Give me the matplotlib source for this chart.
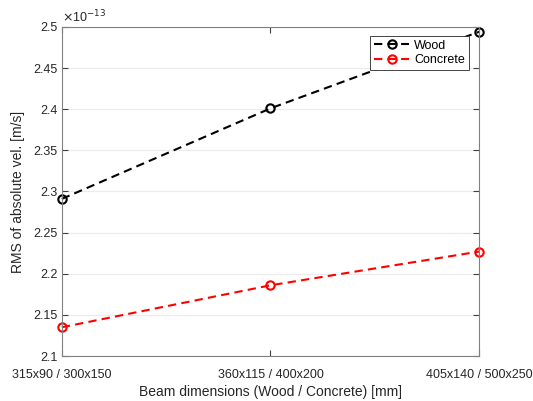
import numpy as np
import matplotlib.pyplot as plt

plt.rcParams['font.family'] = ['Liberation Sans', 'DejaVu Sans']

categories = ['315x90 / 300x150', '360x115 / 400x200', '405x140 / 500x250']
wood = [2.291, 2.401, 2.494]       # x 1e-13 m/s
concrete = [2.135, 2.186, 2.227]   # x 1e-13 m/s

fig = plt.figure(figsize=(5.33, 4.01), dpi=100)
ax = fig.add_axes([0.116, 0.112, 0.783, 0.821])

x = np.arange(len(categories))
ax.plot(x, wood, color='black', linestyle=(0, (4, 2.5)), linewidth=1.5,
        marker='o', markersize=6, markerfacecolor='none', markeredgewidth=1.5,
        label='Wood', clip_on=False)
ax.plot(x, concrete, color='red', linestyle=(0, (4, 2.5)), linewidth=1.5,
        marker='o', markersize=6, markerfacecolor='none', markeredgewidth=1.5,
        label='Concrete', clip_on=False)

ax.set_xlim(0, 2)
ax.set_ylim(2.1, 2.5)
ax.set_xticks(x)
ax.set_xticklabels(categories)
ax.set_yticks(np.arange(2.1, 2.501, 0.05))
ax.set_yticklabels(['2.1', '2.15', '2.2', '2.25', '2.3', '2.35', '2.4', '2.45', '2.5'])
ax.yaxis.grid(True, color='#ebebeb', linewidth=0.8)
ax.set_axisbelow(True)

for s in ax.spines.values():
    s.set_color('#808080')
    s.set_linewidth(0.8)
ax.tick_params(direction='in', length=4, color='#404040', labelsize=9,
               labelcolor='#262626', top=True, right=True, pad=3)
ax.tick_params(axis='x', pad=9)

ax.set_xlabel('Beam dimensions (Wood / Concrete) [mm]', fontsize=10, color='#262626', labelpad=3)
ax.set_ylabel('RMS of absolute vel. [m/s]', fontsize=10, color='#262626', labelpad=6)
ax.text(0.0, 1.005, r'$\times$10$^{-13}$', transform=ax.transAxes, fontsize=9,
        color='#262626', ha='left', va='bottom')

leg = ax.legend(loc='upper right', bbox_to_anchor=(0.975, 0.973), borderaxespad=0,
                fontsize=9, fancybox=False, framealpha=1, edgecolor='#262626',
                handlelength=2.8, borderpad=0.3, labelspacing=0.2, handletextpad=0.4)
leg.get_frame().set_linewidth(0.6)

fig.savefig('out.png', dpi=100)
